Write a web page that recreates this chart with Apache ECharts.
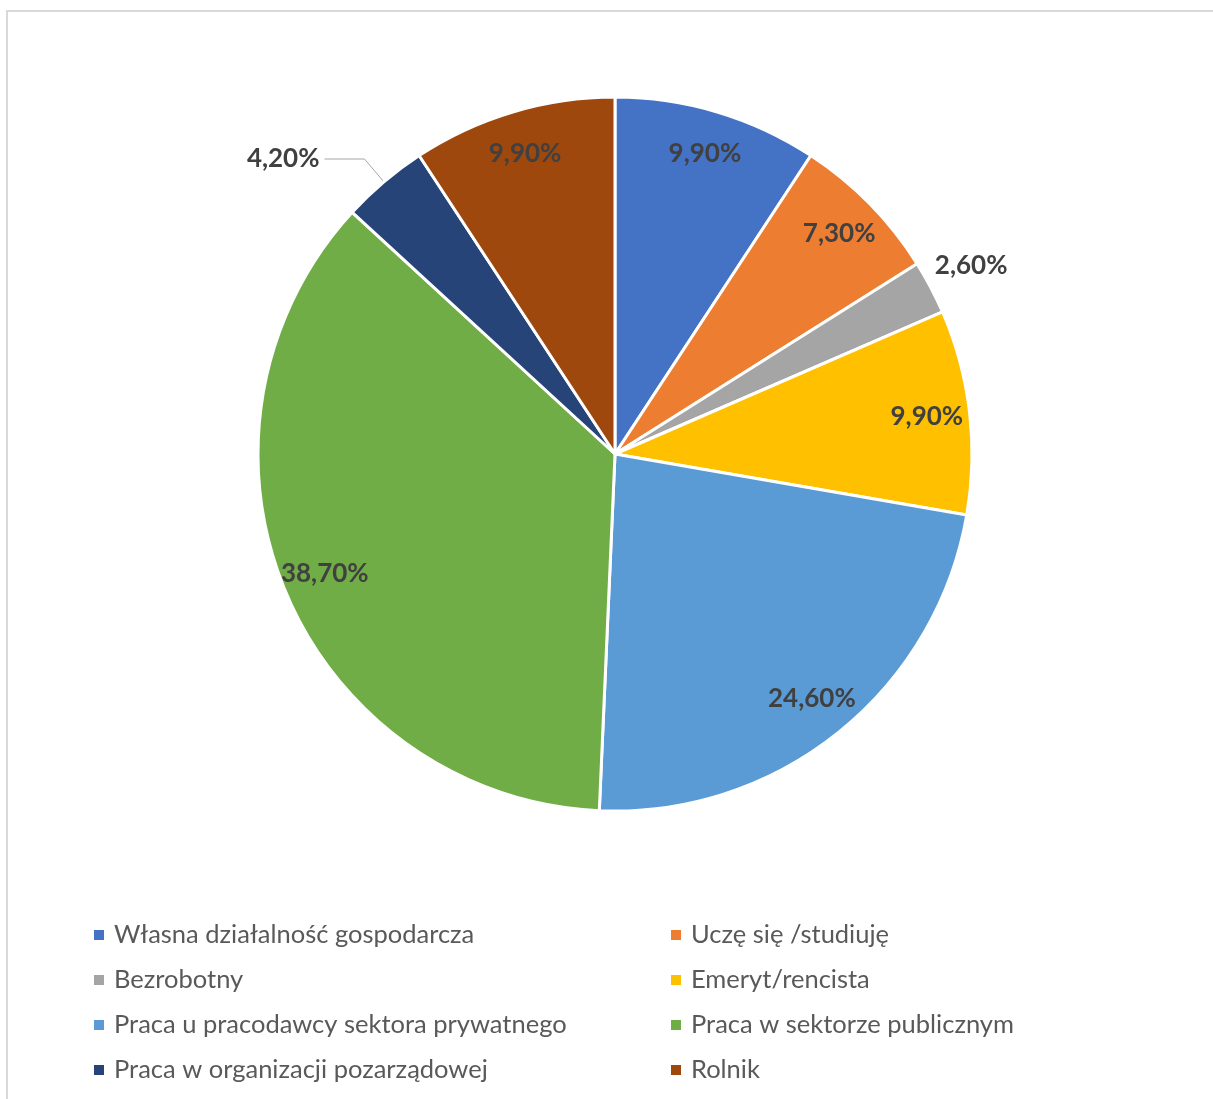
<!DOCTYPE html>
<html>
<head>
<meta charset="utf-8">
<script src="https://cdn.jsdelivr.net/npm/echarts@6/dist/echarts.min.js"></script>
<style>
  html, body { margin: 0; padding: 0; background: #fff; }
  #chart { width: 1213px; height: 1099px; }
</style>
</head>
<body>
<div id="chart"></div>
<script>
// dane z wykresu
const categories = [
  'Własna działalność gospodarcza',
  'Uczę się /studiuję',
  'Bezrobotny',
  'Emeryt/rencista',
  'Praca u pracodawcy sektora prywatnego',
  'Praca w sektorze publicznym',
  'Praca w organizacji pozarządowej',
  'Rolnik'
]
const values = [9.9, 7.3, 2.6, 9.9, 24.6, 38.7, 4.2, 9.9]
const colors = ['#4472C4', '#ED7D31', '#A5A5A5', '#FFC000', '#5B9BD5', '#70AD47', '#264478', '#9E480E']

const chart = echarts.init(document.getElementById('chart'))

const fmt = (v) => v.toFixed(2).replace('.', ',') + '%'

const pieData = categories.map((name, i) => ({ name, value: values[i] }))

// etykiety: osobna przezroczysta seria (pierścień), żeby etykiety były blisko krawędzi
const labelData = categories.map((name, i) => {
  const item = { name, value: values[i] }
  if (i === 2) {
    item.label = { position: 'outside' }
    item.labelLine = { show: false, length: 8, length2: 0 }
  }
  if (i === 6) {
    item.label = { position: 'outside' }
    item.labelLine = { show: true, length: 30, length2: 40, lineStyle: { color: '#A6A6A6', width: 1 } }
  }
  return item
})

const leftCol = categories.filter((_, i) => i % 2 === 0)
const rightCol = categories.filter((_, i) => i % 2 === 1)

const legendBase = {
  orient: 'vertical',
  top: 920,
  padding: 0,
  icon: 'rect',
  itemWidth: 12,
  itemHeight: 12,
  itemGap: 15,
  selectedMode: false,
  textStyle: {
    fontFamily: 'Lato',
    fontSize: 25.5,
    color: '#595959',
    lineHeight: 30,
    padding: [0, 0, 0, 4]
  }
}

chart.setOption({
  animation: false,
  color: colors,
  graphic: [{
    type: 'rect',
    shape: { x: 7, y: 11, width: 1230, height: 1120 },
    style: { fill: 'none', stroke: '#D9D9D9', lineWidth: 2 },
    silent: true
  }],
  legend: [
    Object.assign({}, legendBase, { left: 92, data: leftCol }),
    Object.assign({}, legendBase, { left: 669, data: rightCol })
  ],
  series: [
    {
      type: 'pie',
      center: [615, 454],
      radius: [0, 357],
      startAngle: 90,
      clockwise: true,
      data: pieData,
      label: { show: false },
      labelLine: { show: false },
      itemStyle: { borderColor: '#fff', borderWidth: 3 },
      emphasis: { disabled: true }
    },
    {
      type: 'pie',
      center: [615, 454],
      radius: [265, 357],
      startAngle: 90,
      clockwise: true,
      silent: true,
      avoidLabelOverlap: false,
      data: labelData,
      itemStyle: { color: 'transparent' },
      legendHoverLink: false,
      label: {
        show: true,
        position: 'inside',
        formatter: (p) => fmt(p.value),
        fontFamily: 'Lato',
        fontWeight: 'bold',
        fontSize: 26,
        color: '#404040'
      },
      labelLine: { show: false },
      labelLayout: (p) => (p.dataIndex === 2 ? { dx: -8, dy: -18 } : {}),
      emphasis: { disabled: true }
    }
  ]
})
</script>
</body>
</html>
